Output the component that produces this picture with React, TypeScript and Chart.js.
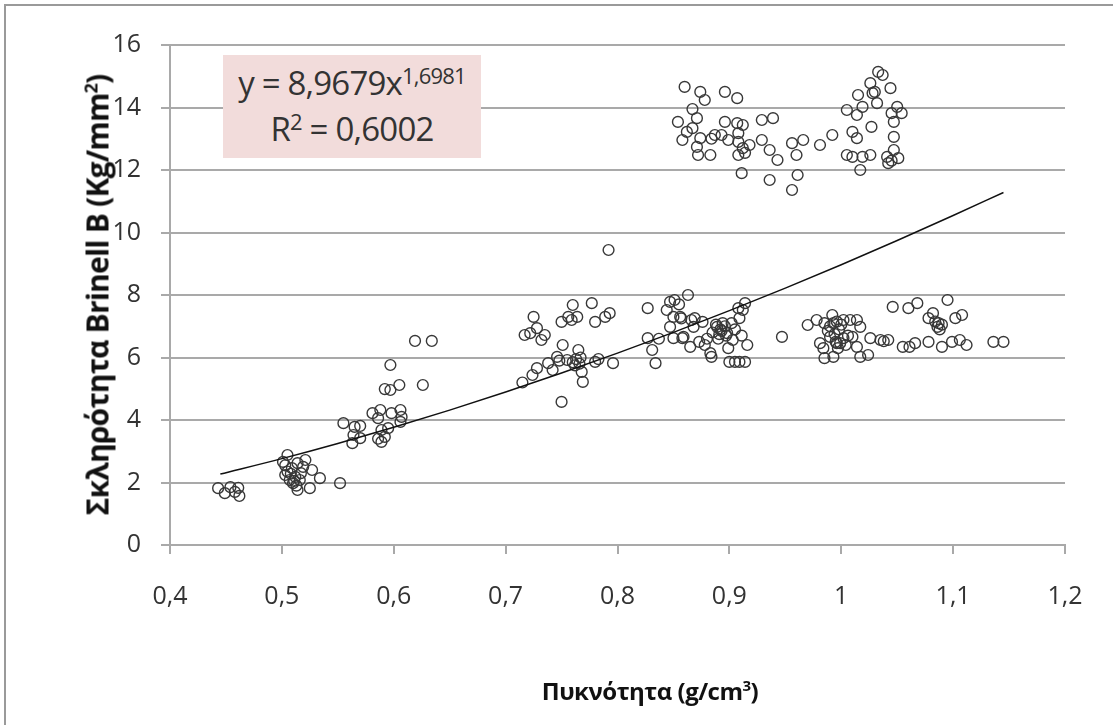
import React, { useEffect, useRef } from "react";
import { Chart, registerables } from "chart.js";

Chart.register(...registerables);

// ---- Data (density g/cm3, Brinell B hardness Kg/mm2) ----
const densityA = [0.443, 0.449, 0.454, 0.461, 0.462, 0.458];
const hardnessA = [1.82, 1.66, 1.85, 1.83, 1.57, 1.7];

const densityB = [0.505, 0.501, 0.503, 0.509, 0.514, 0.521, 0.51, 0.514, 0.507, 0.512, 0.516, 0.527, 0.525, 0.534, 0.552, 0.505, 0.508, 0.511, 0.503, 0.517, 0.513, 0.519];
const hardnessB = [2.88, 2.66, 2.24, 2.46, 2.62, 2.72, 1.98, 1.76, 2.08, 2.18, 2.08, 2.4, 1.82, 2.14, 1.98, 2.35, 2.28, 2.05, 2.55, 2.3, 1.9, 2.5];

const densityC = [0.555, 0.565, 0.57, 0.564, 0.57, 0.563, 0.589, 0.592, 0.586, 0.589, 0.595, 0.581, 0.588, 0.586, 0.598, 0.606, 0.607, 0.606, 0.592, 0.597, 0.605, 0.626, 0.597, 0.619, 0.634];
const hardnessC = [3.9, 3.78, 3.81, 3.52, 3.42, 3.26, 3.68, 3.46, 3.4, 3.3, 3.74, 4.22, 4.32, 4.06, 4.22, 4.32, 4.1, 3.94, 4.99, 4.96, 5.12, 5.12, 5.76, 6.53, 6.53];

const densityD = [0.715, 0.724, 0.728, 0.738, 0.742, 0.746, 0.751, 0.75, 0.748, 0.755, 0.76, 0.763, 0.766, 0.765, 0.768, 0.769, 0.78, 0.783, 0.796, 0.717, 0.722, 0.725, 0.728, 0.732, 0.735, 0.75, 0.756, 0.76, 0.764, 0.759, 0.777, 0.78, 0.789, 0.793, 0.792, 0.762, 0.767];
const hardnessD = [5.2, 5.44, 5.66, 5.82, 5.6, 6.02, 6.4, 4.58, 5.9, 5.92, 5.85, 5.95, 5.8, 6.24, 5.54, 5.22, 5.86, 5.95, 5.82, 6.72, 6.78, 7.3, 6.94, 6.56, 6.72, 7.14, 7.3, 7.68, 7.3, 7.2, 7.74, 7.14, 7.3, 7.42, 9.44, 5.75, 6.0];

const densityE = [0.827, 0.827, 0.831, 0.834, 0.837, 0.844, 0.847, 0.851, 0.855, 0.863, 0.847, 0.85, 0.858, 0.865, 0.868, 0.85, 0.857, 0.866, 0.856, 0.859, 0.869, 0.876, 0.878, 0.883, 0.884, 0.889, 0.892, 0.894, 0.898, 0.896, 0.885, 0.89, 0.903, 0.899, 0.9, 0.905, 0.909, 0.914, 0.916, 0.912, 0.914, 0.909, 0.908, 0.902, 0.888, 0.893, 0.897, 0.891, 0.88, 0.873, 0.905, 0.911, 0.947];
const hardnessE = [7.58, 6.62, 6.24, 5.82, 6.6, 7.52, 7.78, 7.84, 7.7, 8.0, 6.98, 6.62, 6.62, 6.34, 6.98, 7.3, 7.25, 7.2, 7.3, 6.66, 7.26, 7.14, 6.4, 6.14, 6.02, 6.98, 6.9, 7.1, 6.78, 7.0, 6.8, 6.6, 6.56, 6.3, 5.86, 5.86, 5.86, 5.86, 6.4, 7.52, 7.74, 7.26, 7.58, 7.1, 7.05, 6.85, 6.7, 6.75, 6.6, 6.5, 6.9, 6.7, 6.66];

const densityF = [0.97, 0.978, 0.985, 0.992, 0.996, 1.002, 1.008, 1.014, 1.017, 0.981, 0.984, 0.985, 0.993, 0.99, 0.995, 0.999, 1.002, 1.006, 1.01, 1.014, 1.017, 1.024, 1.026, 1.035, 1.038, 1.042, 0.993, 0.996, 0.99, 0.998, 1.0, 0.994, 0.988, 1.004, 0.997];
const hardnessF = [7.04, 7.2, 7.1, 7.36, 7.15, 7.2, 7.2, 7.2, 6.98, 6.46, 6.3, 5.98, 6.02, 6.66, 6.5, 6.46, 6.62, 6.7, 6.66, 6.34, 6.02, 6.08, 6.62, 6.56, 6.52, 6.56, 7.1, 6.46, 7.0, 6.9, 7.05, 6.75, 6.85, 6.4, 6.3];

const densityG = [1.046, 1.06, 1.068, 1.055, 1.061, 1.066, 1.078, 1.078, 1.082, 1.087, 1.086, 1.09, 1.095, 1.09, 1.099, 1.102, 1.108, 1.106, 1.112, 1.084, 1.088, 1.136, 1.145];
const hardnessG = [7.62, 7.58, 7.74, 6.34, 6.34, 6.46, 6.5, 7.26, 7.42, 7.1, 6.98, 7.05, 7.84, 6.34, 6.5, 7.26, 7.36, 6.56, 6.4, 7.15, 6.9, 6.5, 6.5];

const densityH = [0.86, 0.874, 0.878, 0.867, 0.854, 0.871, 0.867, 0.862, 0.858, 0.874, 0.871, 0.872, 0.883, 0.887, 0.884, 0.896, 0.907, 0.896, 0.893, 0.899, 0.907, 0.912, 0.908, 0.908, 0.912, 0.908, 0.918, 0.911, 0.914, 0.929, 0.939, 0.929, 0.936, 0.943, 0.936, 0.956, 0.96, 0.966, 0.961, 0.956, 0.981, 0.992, 1.005, 1.015, 1.019, 1.014, 1.01, 1.014, 1.026, 1.028, 1.03, 1.033, 1.037, 1.032, 1.027, 1.044, 1.045, 1.05, 1.054, 1.047, 1.047, 1.047, 1.051, 1.041, 1.042, 1.045, 1.005, 1.01, 1.019, 1.026, 1.017];
const hardnessH = [14.66, 14.5, 14.24, 13.95, 13.54, 13.66, 13.34, 13.22, 12.96, 13.02, 12.74, 12.48, 12.48, 13.12, 13.0, 14.5, 14.3, 13.54, 13.12, 12.96, 13.5, 13.44, 13.18, 12.9, 12.7, 12.48, 12.8, 11.9, 12.55, 13.6, 13.66, 12.96, 12.64, 12.32, 11.68, 12.86, 12.48, 12.96, 11.84, 11.36, 12.8, 13.12, 13.92, 14.4, 14.02, 13.76, 13.22, 13.02, 14.78, 14.46, 14.5, 15.14, 15.04, 14.14, 13.38, 14.62, 13.82, 14.02, 13.82, 13.54, 13.06, 12.64, 12.38, 12.42, 12.22, 12.3, 12.48, 12.42, 12.42, 12.48, 12.0];

// Power trendline y = 8,9679 x^1,6981 (values read at these densities)
const trendDensity = [0.445, 0.5, 0.55, 0.6, 0.65, 0.7, 0.75, 0.8, 0.85, 0.9, 0.95, 1.0, 1.05, 1.1, 1.145];
const trendHardness = [2.27, 2.764, 3.249, 3.767, 4.315, 4.894, 5.503, 6.139, 6.805, 7.499, 8.22, 8.968, 9.743, 10.544, 11.28];

const xTickMin = 0.4;
const xTickMax = 1.2;
const yTickMin = 0;
const yTickMax = 16;

const allDensity = [...densityA, ...densityB, ...densityC, ...densityD, ...densityE, ...densityF, ...densityG, ...densityH];
const allHardness = [...hardnessA, ...hardnessB, ...hardnessC, ...hardnessD, ...hardnessE, ...hardnessF, ...hardnessG, ...hardnessH];

const W = 1113;
const H = 725;
const LEFT = 170;
const RIGHT = 1065;
const TOP = 45;
const BOTTOM = 545;

const GRID = "#a9a9a9";
const TEXT = "#333333";
const FONT = "'Open Sans', 'DejaVu Sans', sans-serif";

export default function App() {
  const ref = useRef<HTMLCanvasElement | null>(null);

  useEffect(() => {
    if (!ref.current) return;
    const chart = new Chart(ref.current, {
      type: "scatter",
      data: {
        datasets: [
          {
            label: "data",
            data: allDensity.map((x, i) => ({ x, y: allHardness[i] })),
            pointStyle: "circle",
            pointRadius: 5.4,
            pointBorderWidth: 1.4,
            pointBorderColor: "#383838",
            pointBackgroundColor: "rgba(0,0,0,0)",
            showLine: false,
            order: 2,
          },
          {
            label: "trend",
            type: "line",
            data: trendDensity.map((x, i) => ({ x, y: trendHardness[i] })),
            borderColor: "#111",
            borderWidth: 1.5,
            pointRadius: 0,
            fill: false,
            cubicInterpolationMode: "monotone",
            order: 1,
          } as any,
        ],
      },
      options: {
        responsive: false,
        animation: false,
        events: [],
        layout: { padding: { left: 0, top: TOP, right: W - RIGHT, bottom: 0 } },
        plugins: { legend: { display: false }, tooltip: { enabled: false }, title: { display: false } },
        scales: {
          x: {
            type: "linear",
            min: xTickMin,
            max: xTickMax,
            afterFit: (s: any) => {
              s.height = H - BOTTOM;
            },
            ticks: {
              stepSize: 0.1,
              padding: 28,
              color: TEXT,
              font: { family: FONT, size: 25 },
              callback: (v: any) => String(Math.round(Number(v) * 10) / 10).replace(".", ","),
            },
            grid: {
              display: true,
              drawOnChartArea: false,
              drawTicks: true,
              tickLength: 9,
              color: GRID,
              lineWidth: 2,
            },
            border: { display: true, color: GRID, width: 2 },
          },
          y: {
            type: "linear",
            min: yTickMin,
            max: yTickMax,
            afterFit: (s: any) => {
              s.width = LEFT;
            },
            ticks: {
              stepSize: 2,
              padding: 20,
              color: TEXT,
              font: { family: FONT, size: 25 },
            },
            grid: {
              display: true,
              drawOnChartArea: true,
              drawTicks: true,
              tickLength: 9,
              color: GRID,
              lineWidth: 2,
            },
            border: { display: true, color: GRID, width: 2 },
          },
        },
      },
    });
    return () => chart.destroy();
  }, []);

  return (
    <div style={{ position: "fixed", left: 0, top: 0, width: W, height: H, background: "#fff", overflow: "hidden" }}>
      <canvas ref={ref} width={W} height={H} style={{ position: "absolute", left: 0, top: 0, width: W, height: H }} />
      {/* outer frame (left + top edges) */}
      <div style={{ position: "absolute", left: 4, top: 4, width: 2, height: H - 4, background: "#9a9a9a" }} />
      <div style={{ position: "absolute", left: 4, top: 4, width: W - 4, height: 2, background: "#9a9a9a" }} />
      {/* equation box */}
      <div
        style={{
          position: "absolute",
          left: 223,
          top: 55,
          width: 258,
          height: 103,
          background: "#f2dcdb",
          fontFamily: FONT,
          color: TEXT,
          fontSize: 33,
          textAlign: "center",
          lineHeight: "46px",
          paddingTop: 5,
          boxSizing: "border-box",
          whiteSpace: "nowrap",
          letterSpacing: -0.8,
        }}
      >
        <div>
          y = 8,9679x<sup style={{ fontSize: 22, verticalAlign: "top", lineHeight: "30px" }}>1,6981</sup>
        </div>
        <div>
          R<sup style={{ fontSize: 22, verticalAlign: "top", lineHeight: "30px" }}>2</sup> = 0,6002
        </div>
      </div>
      {/* y axis title */}
      <div
        style={{
          position: "absolute",
          left: 97,
          top: 295,
          transform: "translate(-50%, -50%) rotate(-90deg)",
          fontFamily: FONT,
          fontWeight: 700,
          fontSize: 30,
          color: "#111",
          whiteSpace: "nowrap",
          letterSpacing: -0.8,
        }}
      >
        Σκληρότητα Brinell B (Kg/mm<sup style={{ fontSize: 18 }}>2</sup>)
      </div>
      {/* x axis title */}
      <div
        style={{
          position: "absolute",
          left: 650,
          top: 690,
          transform: "translate(-50%, -50%)",
          fontFamily: FONT,
          fontWeight: 700,
          fontSize: 24,
          color: "#111",
          whiteSpace: "nowrap",
          letterSpacing: -0.5,
        }}
      >
        Πυκνότητα (g/cm<sup style={{ fontSize: 15 }}>3</sup>)
      </div>
    </div>
  );
}
